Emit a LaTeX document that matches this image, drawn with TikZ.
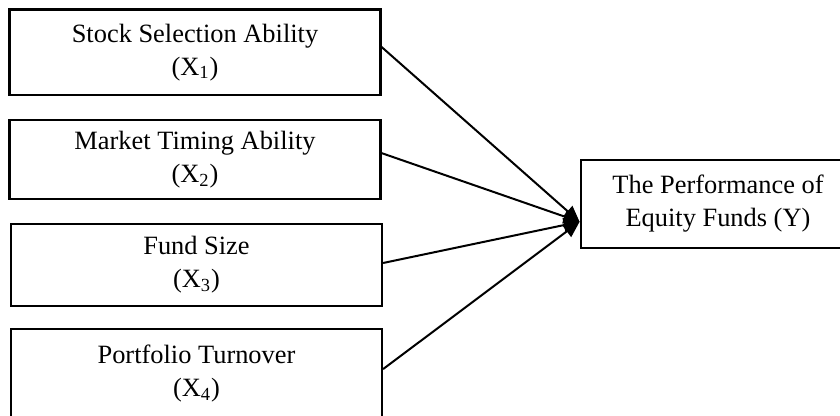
\documentclass[tikz,border=0pt]{standalone}
\usepackage{fontspec}
\setmainfont{Liberation Serif}
\usetikzlibrary{arrows.meta}
\tikzset{
  ar/.style={-{Triangle[length=8pt,width=7pt]},line width=1pt},
  box/.style={draw,line width=1.1pt,align=center,inner sep=0pt,minimum width=185.5pt,font=\fontsize{13.2}{16.5}\selectfont}
}

\begin{document}
\begin{tikzpicture}
\clip (0,0) rectangle (420pt,208pt);
\node[box,minimum height=42.75pt] (x1) at (97.5pt,181.9pt) {Stock Selection Ability\\(X\textsubscript{1})};
\node[box,minimum height=39.5pt] (x2) at (97.5pt,128.25pt) {Market Timing Ability\\(X\textsubscript{2})};
\node[box,minimum height=41pt] (x3) at (98.25pt,75.5pt) {Fund Size\\(X\textsubscript{3})};
\node[box,minimum height=44.5pt] (x4) at (98.25pt,21.25pt) {Portfolio Turnover\\(X\textsubscript{4})};
\node[box,minimum width=137.3pt,minimum height=43.85pt] (y) at (359pt,106.1pt) {The Performance of\\Equity Funds (Y)};
\draw[ar] ([yshift=2.6pt]x1.east) -- ([yshift=-9pt]y.west);
\draw[ar] ([yshift=3.2pt]x2.east) -- ([yshift=-9pt]y.west);
\draw[ar] ([yshift=1pt]x3.east) -- ([yshift=-9pt]y.west);
\draw[ar] ([yshift=2.2pt]x4.east) -- ([yshift=-9pt]y.west);
\end{tikzpicture}
\end{document}
